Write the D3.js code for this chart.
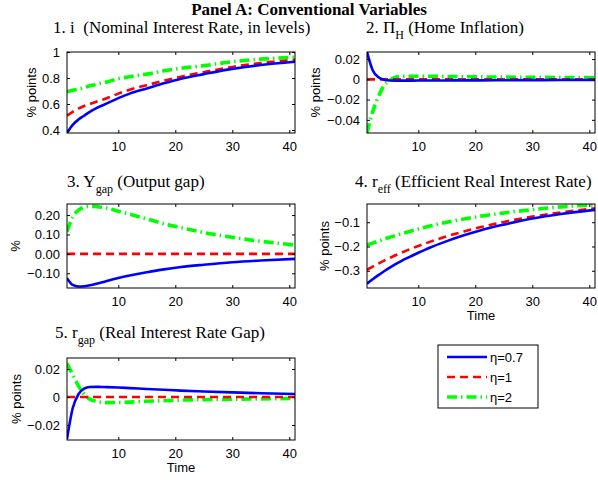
<!DOCTYPE html>
<html>
<head>
<meta charset="utf-8">
<script src="https://cdn.jsdelivr.net/npm/d3@7"></script>
<style>
  body { margin: 0; background: #fff; }
  svg { display: block; }
  .tick text { font-family: "Liberation Sans", Arial, sans-serif; font-size: 13px; }
</style>
</head>
<body>
<svg id="fig" width="598" height="480"></svg>
<script>
var svg = d3.select('#fig');

// time periods (x axis runs 1..41)
var time = [1, 2, 3, 4, 5, 6, 7, 8, 10, 12, 15, 18, 21, 25, 30, 35, 41];
var seriesNames = ["η=0.7", "η=1", "η=2"];
var xTicks = [10, 20, 30, 40];

// 1. nominal interest rate
var iEta07 = [0.378, 0.44, 0.48, 0.51, 0.54, 0.565, 0.585, 0.605, 0.645, 0.68, 0.72, 0.76, 0.795, 0.83, 0.87, 0.90, 0.925];
var iEta1  = [0.51, 0.54, 0.565, 0.585, 0.60, 0.615, 0.63, 0.645, 0.68, 0.71, 0.745, 0.78, 0.81, 0.845, 0.885, 0.915, 0.94];
var iEta2  = [0.695, 0.705, 0.715, 0.725, 0.74, 0.75, 0.76, 0.77, 0.795, 0.81, 0.83, 0.855, 0.875, 0.895, 0.925, 0.945, 0.96];
var iTicks = [0.4, 0.6, 0.8, 1];

// 2. home inflation
var piEta07 = [0.027, 0.009, 0.002, -0.0005, -0.0012, -0.0013, -0.0013, -0.0013, -0.0012, -0.0012, -0.0011, -0.001, -0.001, -0.0009, -0.0008, -0.0007, -0.0006];
var piEta1  = [0, 0, 0, 0, 0, 0, 0, 0, 0, 0, 0, 0, 0, 0, 0, 0, 0];
var piEta2  = [-0.053, -0.032, -0.017, -0.006, -0.001, 0.002, 0.003, 0.003, 0.003, 0.003, 0.0028, 0.0026, 0.0024, 0.0022, 0.002, 0.0018, 0.0016];
var piTicks = [-0.04, -0.02, 0, 0.02];

// 3. output gap
var ygEta07 = [-0.125, -0.16, -0.168, -0.167, -0.162, -0.155, -0.148, -0.14, -0.125, -0.112, -0.095, -0.08, -0.068, -0.056, -0.043, -0.034, -0.026];
var ygEta1  = [0, 0, 0, 0, 0, 0, 0, 0, 0, 0, 0, 0, 0, 0, 0, 0, 0];
var ygEta2  = [0.115, 0.19, 0.225, 0.24, 0.245, 0.245, 0.24, 0.235, 0.22, 0.205, 0.18, 0.155, 0.135, 0.11, 0.085, 0.065, 0.045];
var ygTicks = [-0.1, 0, 0.1, 0.2];

// 4. efficient real interest rate
var reEta07 = [-0.353, -0.335, -0.318, -0.302, -0.287, -0.273, -0.26, -0.248, -0.226, -0.205, -0.178, -0.154, -0.133, -0.11, -0.085, -0.066, -0.049];
var reEta1  = [-0.296, -0.283, -0.27, -0.258, -0.247, -0.236, -0.226, -0.216, -0.198, -0.181, -0.158, -0.138, -0.12, -0.099, -0.077, -0.06, -0.043];
var reEta2  = [-0.194, -0.186, -0.178, -0.17, -0.162, -0.155, -0.148, -0.141, -0.128, -0.116, -0.1, -0.087, -0.075, -0.062, -0.048, -0.037, -0.028];
var reTicks = [-0.3, -0.2, -0.1];

// 5. real interest rate gap
var rgEta07 = [-0.03, -0.008, 0.002, 0.006, 0.0072, 0.0073, 0.0072, 0.0071, 0.0068, 0.0064, 0.0058, 0.0052, 0.0046, 0.004, 0.0033, 0.0027, 0.0022];
var rgEta1  = [0, 0, 0, 0, 0, 0, 0, 0, 0, 0, 0, 0, 0, 0, 0, 0, 0];
var rgEta2  = [0.024, 0.016, 0.008, 0.002, -0.0015, -0.003, -0.0037, -0.004, -0.0039, -0.0036, -0.003, -0.0026, -0.0022, -0.0019, -0.0016, -0.0013, -0.001];
var rgTicks = [-0.02, 0, 0.02];

// line styles (matlab-ish)
var styles = [
  {color: '#0000ff', width: 2.6, dash: null},
  {color: '#ff0000', width: 2.6, dash: '8,5'},
  {color: '#00ff00', width: 3.6, dash: '10,4,1.5,4'}
];

var serif = '"Liberation Serif", "Times New Roman", serif';
var sans = '"Liberation Sans", Arial, sans-serif';

var panels = [
  {num: '1. i  ', sub: '', rest: '(Nominal Interest Rate, in levels)', tx: 53, ty: 33,
   box: [67, 295, 52, 133], dom: [0.377, 1], ticks: iTicks, fmt: d3.format('~g'),
   ylab: '% points', ylx: 36, time: false, data: [iEta07, iEta1, iEta2]},
  {num: '2. Π', sub: 'H', rest: ' (Home Inflation)', tx: 366, ty: 33,
   box: [367, 595, 52, 133], dom: [-0.053, 0.027], ticks: piTicks, fmt: d3.format('~g'),
   ylab: '% points', ylx: 320, time: false, data: [piEta07, piEta1, piEta2]},
  {num: '3. Y', sub: 'gap', rest: ' (Output gap)', tx: 67, ty: 187,
   box: [67, 295, 204, 288], dom: [-0.176, 0.257], ticks: ygTicks, fmt: d3.format('.2f'),
   ylab: '%', ylx: 20, time: false, data: [ygEta07, ygEta1, ygEta2]},
  {num: '4. r', sub: 'eff', rest: ' (Efficient Real Interest Rate)', tx: 355, ty: 187,
   box: [367, 595, 204, 288], dom: [-0.371, -0.025], ticks: reTicks, fmt: d3.format('~g'),
   ylab: '% points', ylx: 329, time: true, data: [reEta07, reEta1, reEta2]},
  {num: '5. r', sub: 'gap', rest: ' (Real Interest Rate Gap)', tx: 55, ty: 338,
   box: [67, 295, 358, 440], dom: [-0.0307, 0.0279], ticks: rgTicks, fmt: d3.format('~g'),
   ylab: '% points', ylx: 21, time: true, data: [rgEta07, rgEta1, rgEta2]}
];

// main title
svg.append('text')
  .attr('x', 309).attr('y', 15)
  .attr('text-anchor', 'middle')
  .style('font-family', serif).style('font-size', '17px').style('font-weight', 'bold')
  .text('Panel A: Conventional Variables');

panels.forEach(function(p) {
  var x = d3.scaleLinear().domain([1, 41]).range([p.box[0], p.box[1]]);
  var y = d3.scaleLinear().domain(p.dom).range([p.box[3], p.box[2]]);
  var g = svg.append('g');

  // subtitle
  var t = g.append('text').attr('x', p.tx).attr('y', p.ty)
    .style('font-family', serif).style('font-size', '17px').style('white-space', 'pre');
  t.append('tspan').text(p.num);
  if (p.sub) {
    t.append('tspan').attr('dy', 6).style('font-size', '12px').text(p.sub);
    t.append('tspan').attr('dy', -6).text(p.rest);
  } else {
    t.append('tspan').text(p.rest);
  }

  // clip the lines to the axes box
  var cid = 'clip' + p.num.charAt(0);
  g.append('clipPath').attr('id', cid).append('rect')
    .attr('x', p.box[0]).attr('y', p.box[2])
    .attr('width', p.box[1] - p.box[0]).attr('height', p.box[3] - p.box[2]);

  var line = d3.line()
    .x(function(d, i) { return x(time[i]); })
    .y(function(d) { return y(d); })
    .curve(d3.curveMonotoneX);

  // draw green first, blue on top like the figure
  [2, 1, 0].forEach(function(k) {
    g.append('path')
      .datum(p.data[k])
      .attr('clip-path', 'url(#' + cid + ')')
      .attr('fill', 'none')
      .attr('stroke', styles[k].color)
      .attr('stroke-width', styles[k].width)
      .attr('stroke-dasharray', styles[k].dash)
      .attr('d', line);
  });

  // axes, ticks pointing inward and mirrored
  var h = p.box[3] - p.box[2];
  g.append('g').attr('transform', 'translate(0,' + p.box[3] + ')')
    .call(d3.axisBottom(x).tickValues(xTicks).tickSize(-3).tickPadding(9));
  g.append('g').attr('transform', 'translate(0,' + p.box[2] + ')')
    .call(d3.axisTop(x).tickValues(xTicks).tickSize(-3).tickFormat(''));
  g.append('g').attr('transform', 'translate(' + p.box[0] + ',0)')
    .call(d3.axisLeft(y).tickValues(p.ticks).tickSize(-3).tickPadding(7).tickFormat(p.fmt));
  g.append('g').attr('transform', 'translate(' + p.box[1] + ',0)')
    .call(d3.axisRight(y).tickValues(p.ticks).tickSize(-3).tickFormat(''));
  g.selectAll('.domain').remove();
  g.selectAll('.tick line').attr('stroke', '#000');
  g.selectAll('.tick text').attr('fill', '#000');

  g.append('rect')
    .attr('x', p.box[0]).attr('y', p.box[2])
    .attr('width', p.box[1] - p.box[0]).attr('height', h)
    .attr('fill', 'none').attr('stroke', '#000').attr('stroke-width', 1);

  // y label
  g.append('text')
    .attr('transform', 'translate(' + p.ylx + ',' + (p.box[2] + h / 2) + ') rotate(-90)')
    .attr('text-anchor', 'middle')
    .style('font-family', sans).style('font-size', '13px')
    .text(p.ylab);

  if (p.time) {
    g.append('text')
      .attr('x', (p.box[0] + p.box[1]) / 2).attr('y', p.box[3] + 32)
      .attr('text-anchor', 'middle')
      .style('font-family', sans).style('font-size', '13px')
      .text('Time');
  }
});

// legend
var leg = svg.append('g').attr('transform', 'translate(438,345)');
leg.append('rect').attr('width', 100).attr('height', 63)
  .attr('fill', '#fff').attr('stroke', '#000').attr('stroke-width', 1);
seriesNames.forEach(function(name, k) {
  var yy = 12 + k * 20;
  leg.append('line')
    .attr('x1', 9).attr('x2', 49).attr('y1', yy).attr('y2', yy)
    .attr('stroke', styles[k].color)
    .attr('stroke-width', styles[k].width)
    .attr('stroke-dasharray', styles[k].dash);
  leg.append('text')
    .attr('x', 52).attr('y', yy + 5)
    .style('font-family', sans).style('font-size', '13px')
    .text(name);
});
</script>
</body>
</html>
